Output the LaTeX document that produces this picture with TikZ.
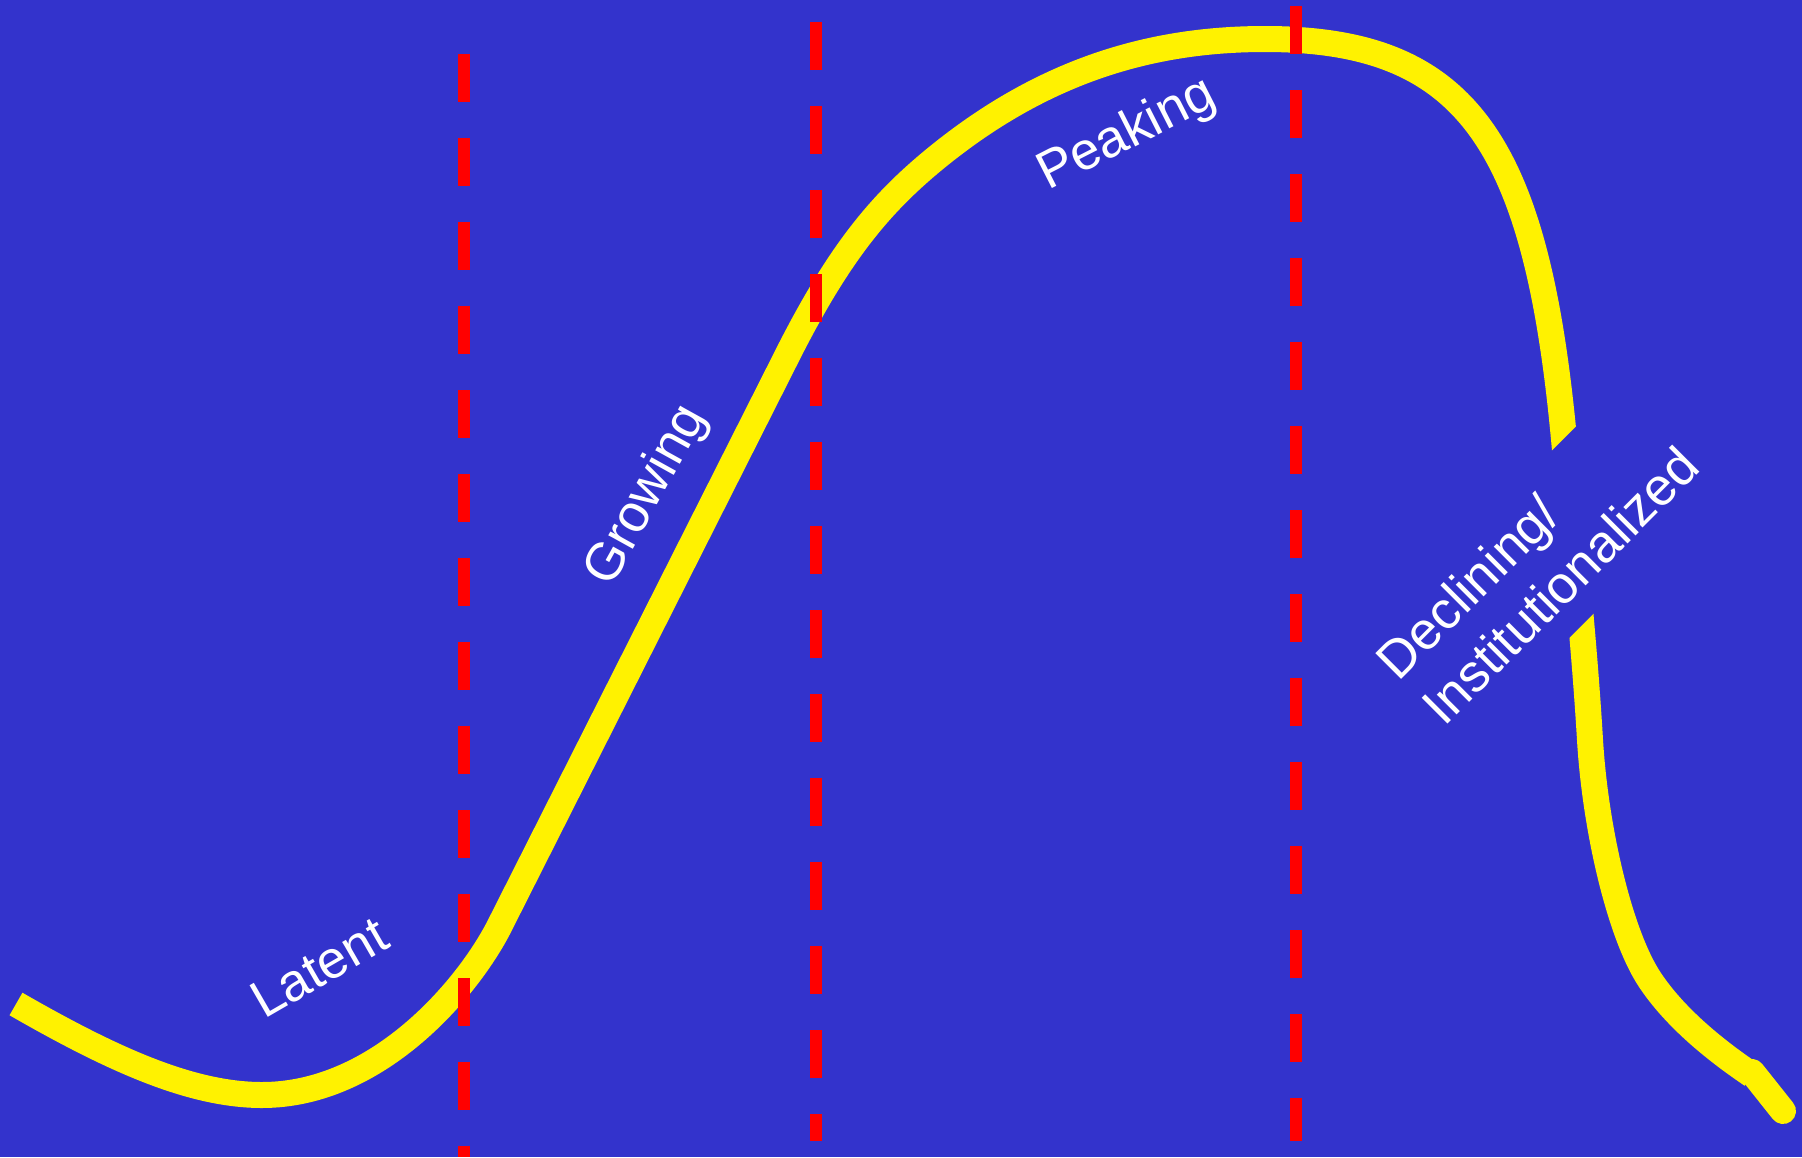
\documentclass[tikz,border=0pt]{standalone}
\usepackage{fontspec}
\setmainfont{Liberation Sans}
\definecolor{bgblue}{RGB}{51,51,204}
\begin{document}
\begin{tikzpicture}[x=1pt,y=-1pt,
  curve/.style={draw=yellow, line width=26pt},
  phase/.style={draw=red, line width=12pt, dash pattern=on 48pt off 36pt},
  lbl/.style={text=white, font=\fontsize{53}{64.3}\selectfont, inner sep=0pt}]
\fill[bgblue] (0,0) rectangle (1802,1157);
\useasboundingbox (0,0) rectangle (1802,1157);
% life-cycle curve
\draw[curve]
  (16,1004) .. controls (110,1058) and (190,1095) .. (262,1095)
  .. controls (380,1095) and (470,985) .. (500,925)
  -- (790,350)
  .. controls (840,252) and (880,205) .. (930,163)
  .. controls (1040,71) and (1150,39) .. (1265,39)
  .. controls (1465,39) and (1536,139) .. (1564,439)
  .. controls (1575,559) and (1584,640) .. (1590,740)
  .. controls (1595.4,830) and (1620,935) .. (1650,980)
  .. controls (1674,1016) and (1712,1048) .. (1752,1075);
\draw[curve, line cap=round] (1752,1072) -- (1783,1111);
% label backing that interrupts the curve
\fill[bgblue] (1354.8,647.7) -- (1623.5,379.0) -- (1725.8,481.3) -- (1457.1,750.0) -- cycle;
% phase boundaries
\coordinate (l1a) at (464,54);   \coordinate (l1b) at (464,1157);
\coordinate (l2a) at (816,22);   \coordinate (l2b) at (816,1141);
\coordinate (l3a) at (1296,6);   \coordinate (l3b) at (1296,1141);
\draw[phase] (l1a) -- (l1b);
\draw[phase] (l2a) -- (l2b);
\draw[phase] (l3a) -- (l3b);
% labels
\node[lbl, anchor=base west, rotate=30] (latent) at (264,1020) {Latent};
\node[lbl, anchor=center, rotate=61] (growing) at (647,496) {Growing};
\node[lbl, anchor=base west, rotate=27] (peaking) at (1048,191) {Peaking};
\node[lbl, anchor=base west, rotate=45] (declining) at (1398.5,682.5)
  {\vtop{\hbox{Declining/}\hbox{Institutionalized}}};
\end{tikzpicture}
\end{document}
